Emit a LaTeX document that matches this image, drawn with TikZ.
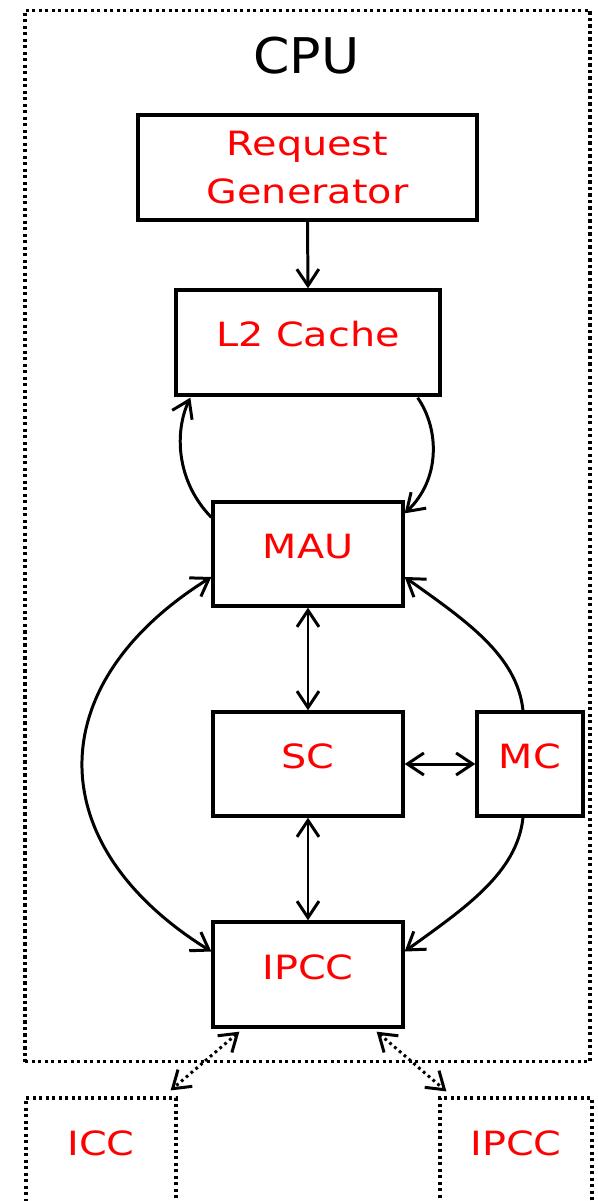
\documentclass[tikz,border=0pt]{standalone}
\usepackage{fontspec}
\setmainfont[FakeStretch=1.19]{DejaVu Sans}
\newfontfamily\titlefont[FakeStretch=1.06]{DejaVu Sans}
\usetikzlibrary{arrows.meta,calc}
\begin{document}
\begin{tikzpicture}[x=0.02cm,y=-0.02cm,
  >={Straight Barb[length=0.33cm,width=0.44cm]},
  box/.style={draw,line width=1.9pt,rectangle,inner sep=0pt,text=red,
    font=\fontsize{19}{27.3}\selectfont,align=center},
  dotbox/.style={draw,line width=1.8pt,dash pattern=on 1.8pt off 1.9pt,rectangle,inner sep=0pt,
    text=red,font=\fontsize{19}{27.3}\selectfont},
  conn/.style={line width=1.7pt},
  dotline/.style={dash pattern=on 1.6pt off 2pt}]
\clip (0,0) rectangle (598,1201);
\node[dotbox,minimum width=11.3cm,minimum height=21.04cm] (cpu) at (307.5,536) {};
\node[inner sep=0pt,font=\titlefont\fontsize{28}{34}\selectfont] (cputitle) at (306.5,56) {CPU};
\node[box,minimum width=6.78cm,minimum height=2.1cm] (rg) at (307.5,167.5) {Request\\Generator};
\node[box,minimum width=5.28cm,minimum height=2.1cm] (l2) at (308,342.5) {\raisebox{10pt}{L2 Cache}};
\node[box,minimum width=3.8cm,minimum height=2.08cm] (mau) at (308,554) {\raisebox{9pt}{MAU}};
\node[box,minimum width=3.8cm,minimum height=2.08cm] (sc) at (308,764) {\raisebox{9pt}{SC}};
\node[box,minimum width=2.12cm,minimum height=2.08cm] (mc) at (530,764) {\raisebox{9pt}{MC}};
\node[box,minimum width=3.8cm,minimum height=2.1cm] (ipcc) at (308,974.5) {\raisebox{8pt}{IPCC}};
\node[dotbox,minimum width=3.0cm,minimum height=3.04cm] (icc) at (101,1174) {\raisebox{35pt}{ICC}};
\node[dotbox,minimum width=3.04cm,minimum height=3.04cm] (ipcc2) at (516,1174) {\raisebox{35pt}{IPCC}};
\draw[conn,->] (rg.south) -- (l2.north);
\draw[conn,->] ($(mau.north west)+(0,17)$) .. controls (175,480) and (175,430) .. ($(l2.south west)+(16,1)$);
\draw[conn,->] ($(l2.south east)+(-24,1)$) .. controls (440,430) and (440,480) .. ($(mau.north east)+(0,13)$);
\draw[conn,<->] (mau.south) -- (sc.north);
\draw[conn,<->] (sc.east) -- (mc.west);
\draw[conn,<->] (sc.south) -- (ipcc.north);
\draw[conn,<->] ($(mau.west)+(0,23)$) .. controls (40,684) and (40,845) .. ($(ipcc.west)+(0,-23)$);
\draw[conn,->] ($(mc.north)+(-7,0)$) .. controls (517,655) and (465,620) .. ($(mau.east)+(0,23)$);
\draw[conn,->] ($(mc.south)+(-7,0)$) .. controls (517,873) and (465,908) .. ($(ipcc.east)+(0,-23)$);
\draw[conn,dotline,<->] ($(ipcc.south west)+(28,3)$) -- ($(icc.north east)+(-7,-6)$);
\draw[conn,dotline,<->] ($(ipcc.south east)+(-28,3)$) -- ($(ipcc2.north west)+(8,-5)$);
\end{tikzpicture}
\end{document}
